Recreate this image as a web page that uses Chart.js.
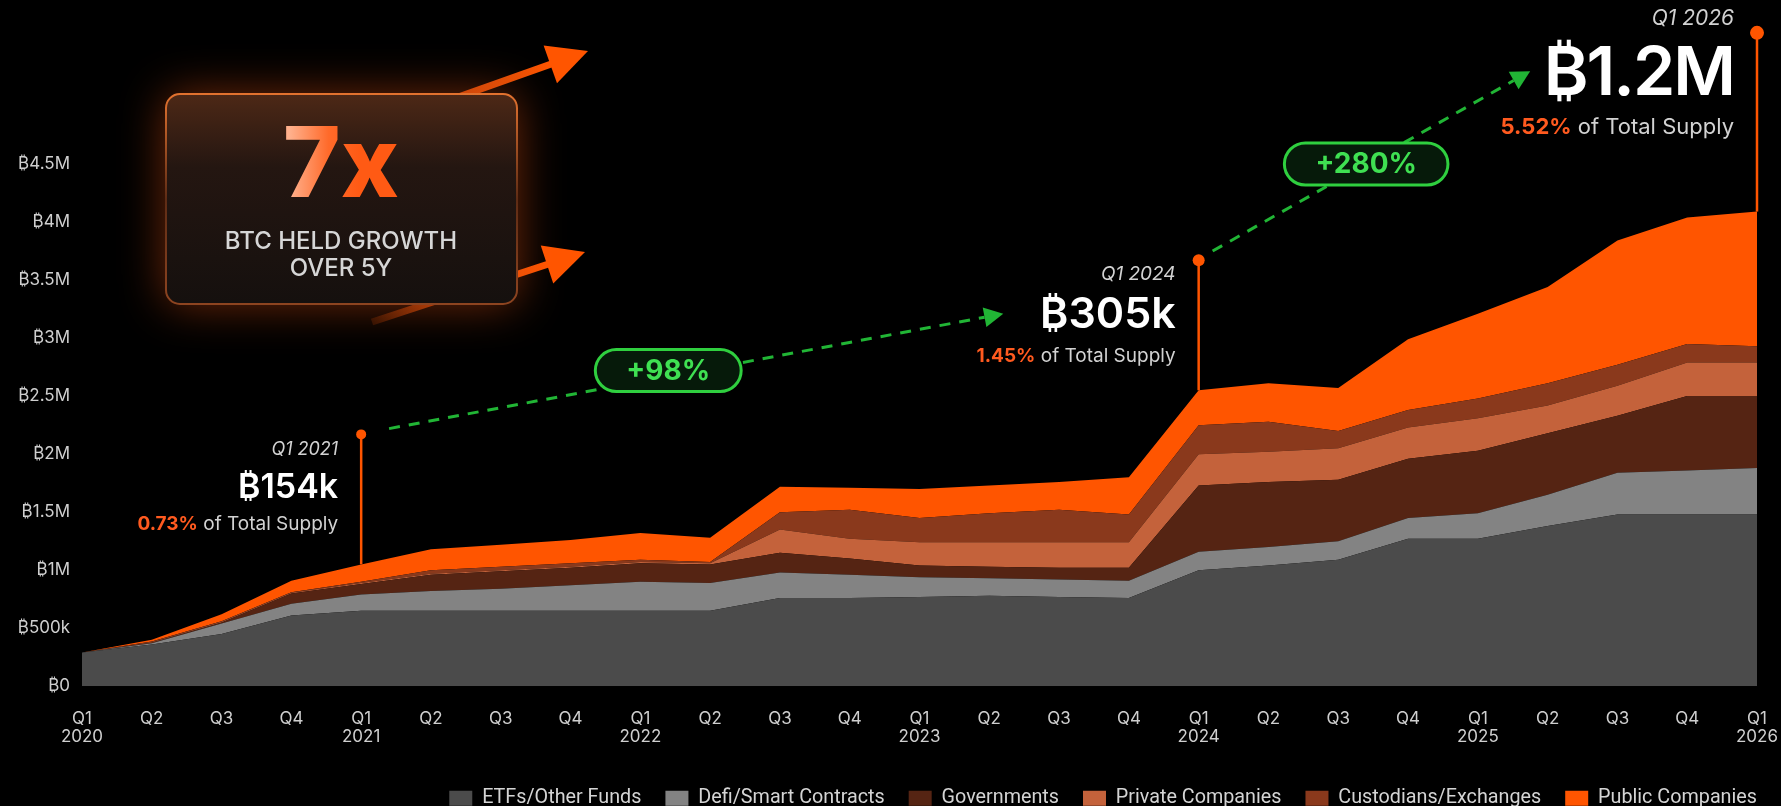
<!DOCTYPE html>
<html lang="en">
<head>
<meta charset="UTF-8">
<title>BTC Held by Entity Type</title>
<script src="https://cdn.jsdelivr.net/npm/chart.js"></script>
<style>
  html, body { margin: 0; padding: 0; background: #000; }
  #wrap { position: relative; width: 1781px; height: 806px; }
</style>
</head>
<body>
<div id="wrap"><canvas id="btcChart"></canvas></div>
<script>
// quarters, Q1 2020 .. Q1 2026
const quarterLabels = ['Q1','Q2','Q3','Q4','Q1','Q2','Q3','Q4','Q1','Q2','Q3','Q4','Q1','Q2','Q3','Q4','Q1','Q2','Q3','Q4','Q1','Q2','Q3','Q4','Q1'];
const yearLabels = ['2020','','','','2021','','','','2022','','','','2023','','','','2024','','','','2025','','','','2026'];

// BTC held per entity type (stacked in this order)
const etfs       = [290000, 360000, 450000, 610000, 650000, 650000, 650000, 650000, 650000, 650000, 760000, 760000, 770000, 780000, 770000, 760000, 1000000, 1040000, 1090000, 1270000, 1270000, 1380000, 1480000, 1480000, 1480000];
const defi       = [0, 10000, 90000, 100000, 140000, 170000, 190000, 220000, 250000, 240000, 220000, 200000, 170000, 150000, 150000, 150000, 160000, 160000, 160000, 180000, 220000, 270000, 360000, 380000, 400000];
const governments= [0, 5000, 10000, 90000, 90000, 140000, 150000, 150000, 160000, 160000, 170000, 140000, 100000, 100000, 100000, 110000, 570000, 560000, 530000, 510000, 540000, 530000, 490000, 640000, 620000];
const privateCos = [0, 5000, 5000, 5000, 10000, 10000, 10000, 10000, 10000, 10000, 200000, 170000, 200000, 210000, 220000, 220000, 270000, 260000, 270000, 270000, 280000, 240000, 260000, 290000, 290000];
const custodians = [0, 5000, 5000, 5000, 10000, 30000, 30000, 30000, 20000, 10000, 150000, 250000, 210000, 250000, 280000, 240000, 250000, 260000, 150000, 150000, 170000, 190000, 180000, 160000, 140000];
const publicCos  = [0, 15000, 60000, 100000, 150000, 180000, 190000, 200000, 230000, 210000, 220000, 190000, 250000, 240000, 240000, 320000, 300000, 330000, 370000, 610000, 730000, 830000, 1070000, 1090000, 1160000];

const seriesNames = ['ETFs/Other Funds', 'Defi/Smart Contracts', 'Governments', 'Private Companies', 'Custodians/Exchanges', 'Public Companies'];
const seriesColors = ['#4b4b4b', '#838383', '#552413', '#c4623b', '#8a391c', '#ff5500'];

const yTickLabels = ['₿0','₿500k','₿1M','₿1.5M','₿2M','₿2.5M','₿3M','₿3.5M','₿4M','₿4.5M'];

// public companies call-outs
const calloutIndex  = [4, 16, 24];
const calloutLabel  = ['Q1 2021', 'Q1 2024', 'Q1 2026'];
const calloutAmount = ['₿154k', '₿305k', '₿1.2M'];
const calloutShare  = ['0.73%', '1.45%', '5.52%'];
const calloutDotAt  = [2170000, 3670000, 5630000];

// growth arrows: [index, value] pairs
const growthText = ['+98%', '+280%'];
const growthFrom = [[4.4, 2220000], [16.2, 3750000]];
const growthTo   = [[13.2, 3210000], [20.75, 5300000]];
const growthPill = [[8.4, 2720000], [18.4, 4500000]];

const ORANGE = '#ff5500';
const GREEN = '#2fcf3f';
const FONT = "Inter, 'Noto Sans', 'DejaVu Sans', sans-serif";

const datasetsArr = [etfs, defi, governments, privateCos, custodians, publicCos].map((d, i) => ({
    label: seriesNames[i],
    data: d,
    backgroundColor: seriesColors[i],
    borderColor: seriesColors[i],
    borderWidth: 0,
    pointRadius: 0,
    tension: 0,
    fill: i === 0 ? 'origin' : '-1'
}));

function stackTotal(idx) {
    return [etfs, defi, governments, privateCos, custodians, publicCos].reduce((s, d) => s + d[idx], 0);
}

const calloutStyle = [
    {label: 18, labelDy: 15, amount: 34, amountDy: 53, spacing: 0, share: 19, shareDy: 90, dot: 5},
    {label: 19, labelDy: 14, amount: 43, amountDy: 55, spacing: 0, share: 19, shareDy: 96, dot: 6},
    {label: 21, labelDy: -14, amount: 68, amountDy: 42, spacing: -2, share: 22, shareDy: 95, dot: 7}
];

function drawCallouts(ctx, x, y) {
    calloutIndex.forEach((idx, i) => {
        const st = calloutStyle[i];
        const px = x.getPixelForValue(idx);
        const dotY = y.getPixelForValue(calloutDotAt[i]);
        const topY = y.getPixelForValue(stackTotal(idx));
        ctx.strokeStyle = ORANGE;
        ctx.lineWidth = 2.5;
        ctx.beginPath();
        ctx.moveTo(px, dotY);
        ctx.lineTo(px, topY);
        ctx.stroke();
        ctx.fillStyle = ORANGE;
        ctx.beginPath();
        ctx.arc(px, dotY, st.dot, 0, Math.PI * 2);
        ctx.fill();

        const right = px - 23;
        ctx.textAlign = 'right';
        ctx.textBaseline = 'middle';
        ctx.fillStyle = '#d2d2d2';
        ctx.font = `italic 400 ${st.label}px ${FONT}`;
        ctx.fillText(calloutLabel[i], right, dotY + st.labelDy);

        ctx.fillStyle = '#ffffff';
        ctx.font = `600 ${st.amount}px ${FONT}`;
        ctx.letterSpacing = st.spacing + 'px';
        ctx.fillText(calloutAmount[i], right, dotY + st.amountDy);
        ctx.letterSpacing = '0px';

        const rest = ' of Total Supply';
        ctx.font = `400 ${st.share}px ${FONT}`;
        const wRest = ctx.measureText(rest).width;
        ctx.fillStyle = '#d2d2d2';
        ctx.fillText(rest, right, dotY + st.shareDy);
        ctx.font = `700 ${st.share}px ${FONT}`;
        ctx.fillStyle = '#ff5a1f';
        ctx.fillText(calloutShare[i], right - wRest, dotY + st.shareDy);
    });
}

function roundRect(ctx, x0, y0, w, h, r) {
    ctx.beginPath();
    ctx.moveTo(x0 + r, y0);
    ctx.arcTo(x0 + w, y0, x0 + w, y0 + h, r);
    ctx.arcTo(x0 + w, y0 + h, x0, y0 + h, r);
    ctx.arcTo(x0, y0 + h, x0, y0, r);
    ctx.arcTo(x0, y0, x0 + w, y0, r);
    ctx.closePath();
}

function drawGrowth(ctx, x, y) {
    growthText.forEach((t, i) => {
        const x0 = x.getPixelForValue(growthFrom[i][0]), y0 = y.getPixelForValue(growthFrom[i][1]);
        const x1 = x.getPixelForValue(growthTo[i][0]), y1 = y.getPixelForValue(growthTo[i][1]);
        const a = Math.atan2(y1 - y0, x1 - x0);
        const head = 19, half = 10;
        ctx.strokeStyle = '#21b535';
        ctx.fillStyle = '#21b535';
        ctx.lineWidth = 3;
        ctx.setLineDash([11, 9]);
        ctx.beginPath();
        ctx.moveTo(x0, y0);
        ctx.lineTo(x1 - head * Math.cos(a), y1 - head * Math.sin(a));
        ctx.stroke();
        ctx.setLineDash([]);
        ctx.beginPath();
        ctx.moveTo(x1, y1);
        ctx.lineTo(x1 - head * Math.cos(a) + half * Math.sin(a), y1 - head * Math.sin(a) - half * Math.cos(a));
        ctx.lineTo(x1 - head * Math.cos(a) - half * Math.sin(a), y1 - head * Math.sin(a) + half * Math.cos(a));
        ctx.closePath();
        ctx.fill();

        const cx = x.getPixelForValue(growthPill[i][0]), cy = y.getPixelForValue(growthPill[i][1]);
        ctx.font = `700 28px ${FONT}`;
        const w = ctx.measureText(t).width + 62, h = 42;
        roundRect(ctx, cx - w / 2, cy - h / 2, w, h, h / 2);
        ctx.fillStyle = '#061a0a';
        ctx.fill();
        ctx.lineWidth = 3;
        ctx.strokeStyle = GREEN;
        ctx.stroke();
        ctx.fillStyle = '#3fe052';
        ctx.textAlign = 'center';
        ctx.textBaseline = 'middle';
        ctx.fillText(t, cx, cy + 1);
    });
}

function orangeArrow(ctx, sx, sy, tx, ty) {
    const a = Math.atan2(ty - sy, tx - sx);
    const head = 40, half = 20;
    const bx = tx - head * Math.cos(a), by = ty - head * Math.sin(a);
    const g = ctx.createLinearGradient(sx, sy, bx, by);
    g.addColorStop(0, 'rgba(255,85,0,0.15)');
    g.addColorStop(0.5, 'rgba(230,80,10,0.85)');
    g.addColorStop(1, ORANGE);
    ctx.strokeStyle = g;
    ctx.lineWidth = 7;
    ctx.beginPath();
    ctx.moveTo(sx, sy);
    ctx.lineTo(bx + 4 * Math.cos(a), by + 4 * Math.sin(a));
    ctx.stroke();
    ctx.fillStyle = ORANGE;
    ctx.beginPath();
    ctx.moveTo(tx, ty);
    ctx.lineTo(bx + half * Math.sin(a), by - half * Math.cos(a));
    ctx.lineTo(bx - half * Math.sin(a), by + half * Math.cos(a));
    ctx.closePath();
    ctx.fill();
}

function drawHeadline(ctx) {
    orangeArrow(ctx, 371, 128, 588, 51);
    orangeArrow(ctx, 372, 322, 585, 252);

    const bx = 166, by = 94, bw = 351, bh = 210;
    ctx.save();
    ctx.shadowColor = 'rgba(255,90,20,0.45)';
    ctx.shadowBlur = 45;
    roundRect(ctx, bx, by, bw, bh, 14);
    const fillG = ctx.createLinearGradient(0, by, 0, by + bh);
    fillG.addColorStop(0, '#4d2816');
    fillG.addColorStop(0.35, '#241611');
    fillG.addColorStop(1, '#15100e');
    ctx.fillStyle = fillG;
    ctx.fill();
    ctx.restore();
    roundRect(ctx, bx, by, bw, bh, 14);
    const edge = ctx.createLinearGradient(0, by, 0, by + bh);
    edge.addColorStop(0, '#e2722f');
    edge.addColorStop(0.5, '#5e2c15');
    edge.addColorStop(1, '#8d4420');
    ctx.strokeStyle = edge;
    ctx.lineWidth = 2;
    ctx.stroke();

    const sevenG = ctx.createLinearGradient(290, 0, 360, 0);
    sevenG.addColorStop(0, '#ffb08c');
    sevenG.addColorStop(0.55, '#ff6a2a');
    sevenG.addColorStop(1, '#ff5a14');
    ctx.fillStyle = sevenG;
    ctx.textAlign = 'center';
    ctx.textBaseline = 'middle';
    ctx.font = `800 98px ${FONT}`;
    ctx.fillText('7x', 341, 168);
    ctx.fillStyle = '#d6d6d6';
    ctx.font = `500 24px ${FONT}`;
    ctx.fillText('BTC HELD GROWTH', 341, 242);
    ctx.fillText('OVER 5Y', 341, 269);
}

const overlayPlugin = {
    id: 'overlay',
    afterDatasetsDraw(chart) {
        const {ctx, scales: {x, y}} = chart;
        ctx.save();
        drawCallouts(ctx, x, y);
        drawGrowth(ctx, x, y);
        drawHeadline(ctx);
        ctx.restore();
    }
};

const btcChart = new Chart(document.getElementById('btcChart').getContext('2d'), {
    type: 'line',
    data: {
        labels: quarterLabels.map((q, i) => yearLabels[i] ? [q, yearLabels[i]] : q),
        datasets: datasetsArr
    },
    options: {
        responsive: true,
        maintainAspectRatio: false,
        animation: false,
        layout: { padding: { top: 164, right: 0, bottom: -12, left: 0 } },
        plugins: {
            legend: {
                position: 'bottom',
                align: 'end',
                labels: {
                    color: '#d4d4d4',
                    font: { family: "'Liberation Sans Narrow', 'Arial Narrow', Roboto, sans-serif", size: 19.75 },
                    boxWidth: 23,
                    boxHeight: 15,
                    padding: 24
                }
            },
            tooltip: { enabled: false }
        },
        scales: {
            x: {
                grid: { display: false, drawTicks: false },
                border: { display: false },
                ticks: {
                    color: '#cfcfcf',
                    font: { family: FONT, size: 17, lineHeight: 1.05 },
                    padding: 24,
                    autoSkip: false,
                    maxRotation: 0
                },
                afterFit(s) { s.paddingLeft = 0; s.paddingRight = 24; s.height = 78; }
            },
            y: {
                stacked: true,
                min: 0,
                max: 4500000,
                grid: { display: false, drawTicks: false },
                border: { display: false },
                ticks: {
                    stepSize: 500000,
                    color: '#cfcfcf',
                    font: { family: FONT, size: 17 },
                    padding: 12,
                    callback: (v) => yTickLabels[Math.round(v / 500000)]
                },
                afterFit(s) { s.width = 82; }
            }
        }
    },
    plugins: [overlayPlugin]
});
</script>
</body>
</html>
